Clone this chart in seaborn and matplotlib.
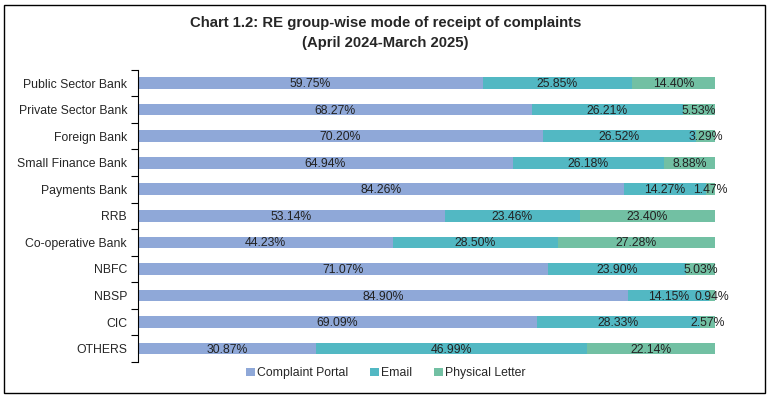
import numpy as np
import pandas as pd
import seaborn as sns
import matplotlib.pyplot as plt
from matplotlib.patches import Patch, Rectangle

# Daten
categories = ['Public Sector Bank', 'Private Sector Bank', 'Foreign Bank', 'Small Finance Bank',
              'Payments Bank', 'RRB', 'Co-operative Bank', 'NBFC', 'NBSP', 'CIC', 'OTHERS']
portal = [59.75, 68.27, 70.20, 64.94, 84.26, 53.14, 44.23, 71.07, 84.90, 69.09, 30.87]
email = [25.85, 26.21, 26.52, 26.18, 14.27, 23.46, 28.50, 23.90, 14.15, 28.33, 46.99]
letter = [14.40, 5.53, 3.29, 8.88, 1.47, 23.40, 27.28, 5.03, 0.94, 2.57, 22.14]
series_names = ['Complaint Portal', 'Email', 'Physical Letter']
colors = ['#8fa8d8', '#52b8c3', '#72c0a3']

sns.set_style('white')
plt.rcParams['font.family'] = ['Liberation Sans', 'DejaVu Sans']

df = pd.DataFrame({'cat': categories, 'portal': portal, 'email': email, 'letter': letter})
df['c1'] = df['portal']
df['c2'] = df['portal'] + df['email']
df['c3'] = df['c2'] + df['letter']

fig = plt.figure(figsize=(7.72, 3.99), dpi=100)
ax = fig.add_axes([0.179, 0.093, 0.747, 0.732])

# gestapelte Balken: von hinten nach vorne
for col, c in zip(['c3', 'c2', 'c1'], colors[::-1]):
    sns.barplot(data=df, x=col, y='cat', color=c, width=0.44, saturation=1, ax=ax,
                orient='h', linewidth=0, edgecolor='none')

# Beschriftungen in der Mitte jedes Segments
for i in range(len(categories)):
    starts = [0, df['c1'][i], df['c2'][i]]
    vals = [portal[i], email[i], letter[i]]
    for s, v in zip(starts, vals):
        ax.text(s + v / 2, i + 0.04, f'{v:.2f}%', ha='center', va='center', fontsize=8.8, color='#222222')

ax.set_xlim(0, 100)
ax.set_ylim(len(categories) - 0.5, -0.5)
ax.set_xlabel('')
ax.set_ylabel('')
ax.set_xticks([])
ax.tick_params(axis='y', which='major', length=0, labelsize=8.8, pad=8)
ax.set_yticks(np.arange(-0.5, len(categories), 1), minor=True)
ax.tick_params(axis='y', which='minor', left=True, length=5, width=0.8, direction='out', color='black')
for s in ['top', 'right', 'bottom']:
    ax.spines[s].set_visible(False)
ax.spines['left'].set_linewidth(0.8)
ax.spines['left'].set_color('black')

fig.text(0.499, 0.917, 'Chart 1.2: RE group-wise mode of receipt of complaints\n(April 2024-March 2025)',
         ha='center', va='center', fontsize=10.7, fontweight='bold', linespacing=1.5)

handles = [Patch(facecolor=c, edgecolor='none') for c in colors]
fig.legend(handles, series_names, loc='center', bbox_to_anchor=(0.5, 0.065), ncol=3, frameon=False,
           fontsize=8.8, handlelength=0.7, handleheight=0.7, handletextpad=0.2, columnspacing=1.8)

fig.patches.append(Rectangle((0.005, 0.015), 0.986, 0.972, transform=fig.transFigure,
                             fill=False, edgecolor='black', linewidth=1.0))

plt.savefig('out.png', dpi=100)
plt.close()
